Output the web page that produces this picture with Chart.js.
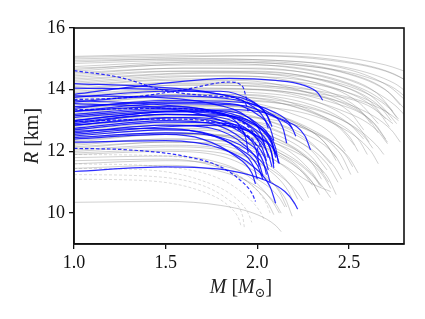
<!DOCTYPE html>
<html><head><meta charset="utf-8">
<script src="https://cdn.jsdelivr.net/npm/chart.js@4/dist/chart.umd.min.js"></script>
<style>html,body{margin:0;padding:0;background:#fff}#wrap{width:425px;height:319px}</style>
</head><body><div id="wrap"><canvas id="c" width="425" height="319"></canvas></div>
<script>
// Axis ticks
const xTicks = [1.0, 1.5, 2.0, 2.5];
const yTicks = [10, 12, 14, 16];
// Each curve: flat list M, R, M, R, ...  (M in solar masses, R in km)
const grayCurves = [
 [1.0,15.08, 1.5,15.15, 2.0,15.2, 2.4,15.1, 2.7,14.8, 2.85,14.5],
 [1.0,15.05, 1.6,15.1, 2.1,15.1, 2.5,14.9, 2.75,14.5, 2.86,14.1],
 [1.0,15.0, 1.5,15.05, 2.0,15.1, 2.4,14.95, 2.7,14.6, 2.85,14.2],
 [1.0,14.95, 1.6,15.0, 2.1,14.95, 2.5,14.7, 2.75,14.2, 2.82,13.9],
 [1.0,14.9, 1.6,15.0, 2.1,14.95, 2.5,14.65, 2.72,14.1, 2.8,13.7],
 [1.0,14.85, 1.6,14.95, 2.1,14.9, 2.45,14.6, 2.7,14.0, 2.78,13.5],
 [1.0,14.75, 1.6,14.9, 2.1,14.85, 2.5,14.5, 2.72,13.9, 2.8,13.4],
 [1.0,14.7, 1.6,14.8, 2.0,14.8, 2.4,14.5, 2.65,13.9, 2.74,13.3],
 [1.0,14.65, 1.7,14.9, 2.2,14.8, 2.6,14.4, 2.8,13.8, 2.86,13.3],
 [1.0,14.6, 1.7,14.85, 2.2,14.7, 2.55,14.2, 2.75,13.5, 2.8,13.2],
 [1.0,14.55, 1.6,14.7, 2.0,14.7, 2.4,14.35, 2.62,13.8, 2.72,13.2],
 [1.0,14.5, 1.6,14.7, 2.1,14.65, 2.5,14.2, 2.7,13.55, 2.76,13.1],
 [1.0,14.45, 1.5,14.6, 2.0,14.6, 2.35,14.3, 2.6,13.7, 2.7,13.05],
 [1.0,14.4, 1.6,14.6, 2.1,14.55, 2.45,14.15, 2.66,13.5, 2.73,13.0],
 [1.0,14.35, 1.7,14.55, 2.2,14.45, 2.55,14.0, 2.72,13.4, 2.77,13.05],
 [1.0,14.3, 1.5,14.5, 1.9,14.55, 2.3,14.25, 2.55,13.6, 2.66,12.9],
 [1.0,14.25, 1.6,14.45, 2.1,14.4, 2.45,14.0, 2.65,13.35, 2.72,12.8],
 [1.0,14.2, 1.5,14.4, 1.9,14.45, 2.3,14.1, 2.55,13.4, 2.62,12.9],
 [1.0,14.15, 1.6,14.35, 2.1,14.3, 2.5,13.9, 2.7,13.3, 2.76,12.9],
 [1.0,14.1, 1.5,14.3, 1.9,14.3, 2.25,13.95, 2.5,13.3, 2.58,12.7],
 [1.0,14.05, 1.6,14.25, 2.05,14.2, 2.4,13.8, 2.6,13.1, 2.66,12.6],
 [1.0,14.0, 1.5,14.2, 1.9,14.2, 2.3,13.9, 2.6,13.5, 2.74,12.9],
 [1.0,13.95, 1.6,14.15, 2.1,14.05, 2.45,13.6, 2.64,12.9, 2.7,12.4],
 [1.0,13.9, 1.6,14.15, 2.1,14.1, 2.5,13.75, 2.7,13.3, 2.77,13.0],
 [1.0,13.85, 1.6,14.05, 2.0,14.0, 2.35,13.55, 2.55,12.8, 2.61,12.3],
 [1.0,13.8, 1.7,14.05, 2.2,13.9, 2.55,13.4, 2.73,12.7, 2.78,12.3],
 [1.0,13.75, 1.6,14.0, 2.0,14.0, 2.4,13.6, 2.62,13.0, 2.71,12.3],
 [1.0,13.7, 1.6,13.95, 2.1,13.85, 2.45,13.35, 2.65,12.7, 2.71,12.25],
 [1.0,13.65, 1.6,13.85, 2.0,13.8, 2.3,13.3, 2.5,12.5, 2.55,12.0],
 [1.0,13.6, 1.5,13.85, 1.9,13.85, 2.3,13.5, 2.5,12.9, 2.58,12.4],
 [1.0,13.55, 1.6,13.8, 2.05,13.7, 2.4,13.2, 2.58,12.5, 2.63,12.1],
 [1.0,13.5, 1.5,13.75, 1.9,13.75, 2.25,13.35, 2.45,12.75, 2.53,12.2],
 [1.0,13.45, 1.6,13.7, 2.0,13.65, 2.35,13.15, 2.55,12.4, 2.6,11.9],
 [1.0,13.4, 1.7,13.65, 2.2,13.5, 2.5,12.9, 2.65,12.2, 2.69,11.9],
 [1.0,13.35, 1.5,13.6, 1.9,13.6, 2.2,13.2, 2.4,12.6, 2.48,12.0],
 [1.0,13.3, 1.5,13.5, 1.9,13.45, 2.2,12.95, 2.38,12.2, 2.43,11.7],
 [1.0,13.25, 1.6,13.5, 2.1,13.4, 2.45,12.8, 2.62,12.0, 2.66,11.6],
 [1.0,13.2, 1.5,13.45, 1.85,13.45, 2.15,13.05, 2.35,12.4, 2.43,11.8],
 [1.0,13.15, 1.6,13.4, 2.0,13.3, 2.3,12.7, 2.48,11.9, 2.52,11.5],
 [1.0,13.1, 1.5,13.35, 1.9,13.3, 2.25,12.75, 2.45,11.95, 2.51,11.25],
 [1.0,13.05, 1.5,13.3, 1.8,13.3, 2.1,12.9, 2.3,12.25, 2.4,11.6],
 [1.0,13.0, 1.5,13.2, 1.9,13.15, 2.2,12.7, 2.42,11.9, 2.47,11.4],
 [1.0,12.95, 1.6,13.2, 2.0,13.1, 2.35,12.5, 2.5,11.8, 2.55,11.3],
 [1.0,12.9, 1.5,13.15, 1.8,13.15, 2.1,12.7, 2.3,12.0, 2.38,11.4],
 [1.0,12.85, 1.6,13.1, 1.95,13.0, 2.25,12.4, 2.42,11.5, 2.46,11.1],
 [1.0,12.8, 1.5,13.05, 1.9,12.95, 2.2,12.4, 2.38,11.6, 2.44,11.0],
 [1.0,12.75, 1.5,13.0, 1.8,13.0, 2.1,12.55, 2.3,11.8, 2.36,11.3],
 [1.0,12.7, 1.5,12.9, 1.85,12.8, 2.15,12.3, 2.33,11.5, 2.39,11.0],
 [1.0,12.65, 1.5,12.85, 1.9,12.75, 2.2,12.1, 2.36,11.2, 2.4,10.8],
 [1.0,12.6, 1.5,12.85, 1.8,12.85, 2.1,12.35, 2.3,11.6, 2.35,11.1],
 [1.0,12.55, 1.5,12.75, 1.9,12.65, 2.15,12.1, 2.3,11.3, 2.35,10.85],
 [1.0,12.5, 1.5,12.7, 1.8,12.65, 2.1,12.1, 2.3,11.25, 2.34,10.9],
 [1.0,12.45, 1.5,12.6, 1.8,12.5, 2.1,11.95, 2.25,11.3, 2.3,10.9],
 [1.0,12.4, 1.5,12.6, 1.85,12.5, 2.15,11.85, 2.3,11.0, 2.34,10.6],
 [1.0,12.35, 1.5,12.55, 1.8,12.5, 2.1,11.9, 2.3,11.0, 2.33,10.7],
 [1.0,12.3, 1.5,12.55, 1.9,12.5, 2.2,12.0, 2.38,11.2, 2.43,10.6],
 [1.0,12.25, 1.5,12.4, 1.85,12.3, 2.1,11.7, 2.24,10.95, 2.28,10.5],
 [1.0,12.2, 1.5,12.4, 1.9,12.3, 2.2,11.7, 2.35,10.9, 2.4,10.5],
 [1.0,12.15, 1.5,12.3, 1.8,12.2, 2.05,11.6, 2.18,10.9, 2.22,10.45],
 [1.0,12.1, 1.5,12.3, 1.8,12.25, 2.1,11.7, 2.3,10.95, 2.4,10.7],
 [1.0,12.05, 1.5,12.2, 1.8,12.1, 2.05,11.45, 2.17,10.7, 2.2,10.3],
 [1.0,12.0, 1.5,12.15, 1.8,12.05, 2.05,11.5, 2.2,10.8, 2.25,10.4],
 [1.0,11.95, 1.5,12.05, 1.8,11.95, 2.0,11.4, 2.12,10.7, 2.16,10.2],
 [1.0,11.9, 1.5,12.0, 1.8,11.85, 2.0,11.3, 2.15,10.5, 2.19,9.9],
 [1.0,11.8, 1.5,11.85, 1.75,11.7, 1.95,11.2, 2.08,10.4, 2.12,10.0],
 [1.0,11.7, 1.5,11.75, 1.75,11.55, 1.95,11.0, 2.06,10.3, 2.09,9.95],
 [1.0,11.6, 1.5,11.7, 1.8,11.55, 2.0,11.1, 2.12,10.5, 2.15,10.2],
 [1.0,11.45, 1.5,11.55, 1.8,11.35, 2.0,10.85, 2.1,10.3, 2.13,10.0],
 [1.0,10.35, 1.5,10.38, 1.8,10.25, 2.0,9.95, 2.1,9.6, 2.13,9.4]
];
const grayDashed = [
 [1.0,11.9, 1.5,11.85, 1.8,11.5, 1.97,10.9, 2.05,10.3, 2.07,10.0],
 [1.0,11.6, 1.5,11.5, 1.8,11.1, 1.95,10.5, 2.02,10.0, 2.04,9.75],
 [1.0,11.45, 1.4,11.4, 1.7,11.05, 1.88,10.5, 1.95,10.0, 1.97,9.7],
 [1.0,11.25, 1.4,11.2, 1.7,10.9, 1.85,10.4, 1.92,9.9, 1.93,9.5],
 [1.0,11.1, 1.4,11.05, 1.7,10.7, 1.85,10.2, 1.9,9.8, 1.91,9.6]
];
const blueCurves = [
 [1.0,13.85, 1.4,14.15, 1.85,14.37, 2.1,14.3, 2.25,14.15, 2.33,13.9, 2.356,13.66],
 [1.0,14.2, 1.4,14.1, 1.75,13.9, 1.95,13.55, 2.04,13.05, 2.06,12.75],
 [1.0,14.05, 1.5,14.0, 1.8,13.85, 2.0,13.5, 2.06,13.1, 2.08,12.8],
 [1.0,13.8, 1.45,13.75, 1.75,13.55, 1.95,13.1, 2.02,12.6, 2.04,12.2],
 [1.0,13.75, 1.5,13.95, 1.8,13.95, 1.98,13.6, 2.05,13.2, 2.07,12.9],
 [1.0,13.65, 1.5,13.5, 1.8,13.25, 1.96,12.8, 2.04,12.2, 2.06,11.8],
 [1.0,13.6, 1.5,13.8, 1.85,13.7, 2.05,13.3, 2.14,12.75, 2.16,12.27],
 [1.0,13.55, 1.5,13.4, 1.8,13.0, 1.95,12.45, 2.0,11.9, 2.01,11.5],
 [1.0,13.45, 1.5,13.6, 1.85,13.55, 2.0,13.2, 2.07,12.75, 2.09,12.35],
 [1.0,13.4, 1.5,13.65, 1.9,13.6, 2.1,13.25, 2.17,12.95, 2.19,12.75],
 [1.0,13.3, 1.5,13.55, 1.9,13.5, 2.1,13.1, 2.19,12.75, 2.21,12.49],
 [1.0,13.3, 1.5,13.45, 1.75,13.3, 1.9,12.85, 1.94,12.35, 1.95,11.95],
 [1.0,13.2, 1.5,13.4, 1.8,13.3, 1.98,12.9, 2.07,12.35, 2.1,11.9],
 [1.0,13.15, 1.5,13.35, 1.85,13.3, 2.0,12.9, 2.08,12.3, 2.1,11.8],
 [1.0,13.1, 1.5,13.3, 1.8,13.2, 1.98,12.75, 2.07,12.1, 2.09,11.6],
 [1.0,13.0, 1.5,13.3, 1.9,13.35, 2.15,13.0, 2.26,12.5, 2.29,12.05],
 [1.0,13.0, 1.4,13.25, 1.7,13.3, 1.95,12.95, 2.07,12.4, 2.1,11.95],
 [1.0,12.95, 1.5,13.2, 1.8,13.1, 1.97,12.6, 2.06,11.9, 2.08,11.5],
 [1.0,12.9, 1.5,13.2, 1.85,13.15, 2.03,12.7, 2.1,12.1, 2.115,11.62],
 [1.0,12.85, 1.5,13.1, 1.75,13.0, 1.95,12.45, 2.04,11.8, 2.06,11.4],
 [1.0,12.85, 1.3,13.0, 1.6,13.1, 1.9,12.8, 2.02,12.2, 2.05,11.7],
 [1.0,12.75, 1.5,13.0, 1.75,12.9, 1.93,12.35, 2.03,11.7, 2.05,11.25],
 [1.0,12.7, 1.5,12.95, 1.85,12.9, 2.02,12.4, 2.08,11.9, 2.09,11.46],
 [1.0,12.65, 1.4,12.75, 1.7,12.6, 1.9,12.1, 2.0,11.55, 2.03,11.1],
 [1.0,12.6, 1.5,12.85, 1.75,12.75, 1.93,12.2, 2.01,11.6, 2.03,11.2],
 [1.0,12.55, 1.5,12.8, 1.8,12.85, 2.0,12.5, 2.1,11.95, 2.12,11.6],
 [1.0,12.5, 1.5,12.7, 1.75,12.55, 1.9,12.05, 1.98,11.5, 2.0,11.1],
 [1.0,12.45, 1.5,12.6, 1.8,12.45, 1.98,11.9, 2.05,11.4, 2.07,11.0],
 [1.0,12.4, 1.5,12.55, 1.7,12.4, 1.88,11.85, 1.97,11.3, 1.99,10.95],
 [1.0,12.3, 1.5,12.35, 1.8,12.1, 1.98,11.5, 2.07,10.85, 2.1,10.32],
 [1.0,11.35, 1.5,11.5, 1.85,11.38, 2.05,11.05, 2.15,10.7, 2.2,10.35, 2.22,10.13]
];
const blueDashed = [
 [1.0,14.62, 1.25,14.4, 1.5,13.97, 1.75,13.8, 1.9,13.7, 1.94,13.5, 1.95,13.3],
 [1.0,13.68, 1.3,13.75, 1.6,14.0, 1.85,14.25, 1.92,14.1, 1.945,13.6],
 [1.0,13.35, 1.5,13.4, 1.8,13.2, 1.95,12.8, 2.0,12.4, 2.02,12.1],
 [1.0,12.97, 1.5,13.05, 1.8,12.9, 1.95,12.5, 2.0,12.1, 2.01,11.8],
 [1.0,12.1, 1.3,12.05, 1.6,11.85, 1.8,11.5, 1.92,11.0, 1.97,10.65, 1.99,10.38]
];

function pts(flat){ const o=[]; for(let i=0;i<flat.length;i+=2) o.push({x:flat[i],y:flat[i+1]}); return o; }
const datasets = [];
function add(list, color, width, dash, order){
  list.forEach(c => datasets.push({data:pts(c), borderColor:color, borderWidth:width, borderDash:dash,
    pointRadius:0, fill:false, cubicInterpolationMode:'monotone', order:order}));
}
add(grayCurves, 'rgba(128,128,128,0.37)', 1, [], 3);
add(grayDashed, 'rgba(128,128,128,0.28)', 1, [3,2], 3);
add(blueCurves, 'rgba(0,0,255,0.82)', 1.2, [], 1);
add(blueDashed, 'rgba(0,0,255,0.82)', 1.2, [3.5,2], 1);

const FONT = "'Liberation Serif', 'DejaVu Serif', serif";
const frame = {
  id:'frame',
  afterDraw(chart){
    const ctx=chart.ctx, a=chart.chartArea;
    ctx.save();
    ctx.strokeStyle='#111'; ctx.lineWidth=1.6;
    ctx.strokeRect(a.left, a.top, a.right-a.left, a.bottom-a.top);
    ctx.fillStyle='#222'; ctx.textBaseline='alphabetic';
    const parts=[['M','italic',20,0],[' [','normal',20,0],['M','italic',20,0],['\u2299','normal',13,4],[']','normal',20,0]];
    let w=0; parts.forEach(p=>{ctx.font=p[1]+' '+p[2]+'px '+FONT; w+=ctx.measureText(p[0]).width;});
    let x=(a.left+a.right)/2 - w/2 + 2, y=293;
    parts.forEach(p=>{ctx.font=p[1]+' '+p[2]+'px '+FONT; ctx.fillText(p[0],x,y+p[3]); x+=ctx.measureText(p[0]).width;});
    ctx.translate(38,(a.top+a.bottom)/2); ctx.rotate(-Math.PI/2);
    const yp=[['R','italic',20],[' [km]','normal',20]];
    w=0; yp.forEach(p=>{ctx.font=p[1]+' '+p[2]+'px '+FONT; w+=ctx.measureText(p[0]).width;});
    x=-w/2;
    yp.forEach(p=>{ctx.font=p[1]+' '+p[2]+'px '+FONT; ctx.fillText(p[0],x,0); x+=ctx.measureText(p[0]).width;});
    ctx.restore();
  }
};

new Chart(document.getElementById('c'), {
  type:'line',
  data:{datasets},
  options:{
    responsive:false, animation:false, events:[],
    layout:{padding:{top:28,right:21,left:0,bottom:0}},
    plugins:{legend:{display:false}, tooltip:{enabled:false}},
    scales:{
      x:{type:'linear', min:1.0, max:2.8,
        afterBuildTicks:s=>{s.ticks=xTicks.map(v=>({value:v}));},
        afterFit:s=>{s.height=75;},
        grid:{drawOnChartArea:false, drawTicks:true, tickLength:5, color:'#111', lineWidth:1.3},
        border:{display:true, color:'#111', width:1.6},
        ticks:{padding:3, color:'#111', font:{family:FONT, size:18}, callback:v=>Number(v).toFixed(1), maxRotation:0}},
      y:{type:'linear', min:9, max:16,
        afterBuildTicks:s=>{s.ticks=yTicks.map(v=>({value:v}));},
        afterFit:s=>{s.width=74;},
        grid:{drawOnChartArea:false, drawTicks:true, tickLength:5, color:'#111', lineWidth:1.3},
        border:{display:true, color:'#111', width:1.6},
        ticks:{padding:4, color:'#111', font:{family:FONT, size:18}, callback:v=>String(v)}}
    }
  },
  plugins:[frame]
});
</script></body></html>
